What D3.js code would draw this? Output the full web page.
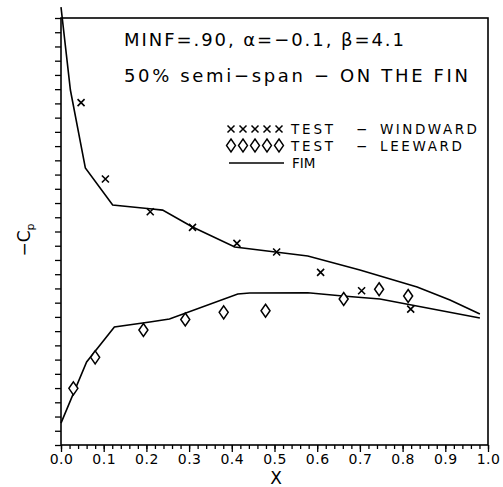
<!DOCTYPE html>
<html>
<head>
<meta charset="utf-8">
<script src="https://cdn.jsdelivr.net/npm/d3@7"></script>
<style>
  body { margin: 0; background: #fff; }
  svg { display: block; }
  text { font-family: "DejaVu Sans", sans-serif; fill: #000; }
</style>
</head>
<body>
<div id="vis"></div>
<script>
// test data - windward (x markers)
var xWind = [0.047, 0.104, 0.209, 0.308, 0.412, 0.505, 0.608, 0.704, 0.819];
var cpWind = [0.905, 0.369, 0.139, 0.029, -0.083, -0.144, -0.287, -0.416, -0.545];

// test data - leeward (diamonds)
var xLee = [0.029, 0.080, 0.193, 0.291, 0.381, 0.479, 0.662, 0.745, 0.813];
var cpLee = [-1.102, -0.884, -0.692, -0.618, -0.568, -0.557, -0.474, -0.406, -0.453];

// FIM curves
var xFimUp = [0.0, 0.022, 0.057, 0.121, 0.208, 0.238, 0.308, 0.407, 0.578, 0.700, 0.834, 0.911, 0.981];
var cpFimUp = [1.577, 0.994, 0.446, 0.186, 0.160, 0.150, 0.032, -0.109, -0.172, -0.271, -0.390, -0.481, -0.580];
var xFimLow = [0.0, 0.060, 0.125, 0.208, 0.254, 0.414, 0.442, 0.578, 0.660, 0.747, 0.981];
var cpFimLow = [-1.346, -0.917, -0.671, -0.636, -0.615, -0.439, -0.432, -0.430, -0.453, -0.474, -0.608];

var xTickLabels = ["0.0", "0.1", "0.2", "0.3", "0.4", "0.5", "0.6", "0.7", "0.8", "0.9", "1.0"];
var legendLabels = ["WINDWARD", "LEEWARD"];

var margin = { top: 18, right: 15, bottom: 42, left: 61 },
    width = 503 - margin.left - margin.right,
    height = 487 - margin.top - margin.bottom;

var svg = d3.select("#vis")
  .append("svg")
    .attr("width", 503)
    .attr("height", 487);

var plot = svg.append("g")
  .attr("transform", "translate(" + margin.left + "," + margin.top + ")");

var x = d3.scaleLinear().domain([0, 1]).range([0, width]);
var y = d3.scaleLinear().domain([-1.5, 1.5]).range([height, 0]);

// minor x ticks
plot.append("g")
  .attr("transform", "translate(0," + height + ")")
  .call(d3.axisBottom(x).tickValues(d3.range(0, 51).map(d => d / 50)).tickSize(4).tickFormat(""))
  .call(g => g.select(".domain").remove());

// major x ticks with labels
plot.append("g")
  .attr("transform", "translate(0," + height + ")")
  .call(d3.axisBottom(x).tickValues(d3.range(0, 11).map(d => d / 10)).tickSize(7).tickPadding(2)
    .tickFormat((d, i) => xTickLabels[i]))
  .call(g => g.select(".domain").remove())
  .call(g => g.selectAll("text")
    .attr("font-size", 14)
    .attr("letter-spacing", 0.5)
    .attr("fill", "#000")
    .style("font-family", "DejaVu Sans, sans-serif"));

// y ticks, unlabeled
plot.append("g")
  .call(d3.axisLeft(y).tickValues(d3.range(0, 31).map(d => -1.5 + d / 10)).tickSize(6).tickFormat(""))
  .call(g => g.select(".domain").remove());

plot.selectAll(".tick line").attr("stroke", "#000").attr("stroke-width", 1.3);

// frame
plot.append("rect")
  .attr("width", width)
  .attr("height", height)
  .attr("fill", "none")
  .attr("stroke", "#000")
  .attr("stroke-width", 1.6);

var line = d3.line()
  .x(d => x(d[0]))
  .y(d => y(d[1]));

[[xFimUp, cpFimUp], [xFimLow, cpFimLow]].forEach(function (s) {
  plot.append("path")
    .datum(d3.zip(s[0], s[1]))
    .attr("d", line)
    .attr("fill", "none")
    .attr("stroke", "#000")
    .attr("stroke-width", 1.6);
});

function crossPath(cx, cy) {
  var r = 3.5;
  return "M" + (cx - r) + "," + (cy - r) + "L" + (cx + r) + "," + (cy + r) +
         "M" + (cx - r) + "," + (cy + r) + "L" + (cx + r) + "," + (cy - r);
}
function diamondPath(cx, cy) {
  var w = 4.5, h = 6.5;
  return "M" + cx + "," + (cy - h) + "L" + (cx + w) + "," + cy +
         "L" + cx + "," + (cy + h) + "L" + (cx - w) + "," + cy + "Z";
}

plot.append("g")
  .selectAll("path")
  .data(d3.zip(xWind, cpWind))
  .enter()
  .append("path")
    .attr("d", d => crossPath(x(d[0]), y(d[1])))
    .attr("stroke", "#000")
    .attr("stroke-width", 1.6);

plot.append("g")
  .selectAll("path")
  .data(d3.zip(xLee, cpLee))
  .enter()
  .append("path")
    .attr("d", d => diamondPath(x(d[0]), y(d[1])))
    .attr("fill", "#fff")
    .attr("stroke", "#000")
    .attr("stroke-width", 1.5);

// titles
svg.append("text")
  .attr("x", 124).attr("y", 46)
  .attr("font-size", 18)
  .attr("textLength", 280).attr("lengthAdjust", "spacing")
  .text("MINF=.90,  \u03b1=\u22120.1,  \u03b2=4.1");

svg.append("text")
  .attr("x", 124).attr("y", 82)
  .attr("font-size", 18)
  .attr("textLength", 344).attr("lengthAdjust", "spacing")
  .text("50% semi\u2212span  \u2212  ON THE FIN");

// legend
var legend = svg.append("g");
var legendRows = [129, 145.5];
var legendWidths = [97, 82];

d3.range(5).forEach(function (i) {
  legend.append("path")
    .attr("d", crossPath(231 + i * 12, legendRows[0]))
    .attr("stroke", "#000").attr("stroke-width", 1.5);
  legend.append("path")
    .attr("d", diamondPath(231 + i * 12, legendRows[1]))
    .attr("fill", "#fff").attr("stroke", "#000").attr("stroke-width", 1.4);
});

legendLabels.forEach(function (lab, i) {
  legend.append("text").attr("x", 291).attr("y", legendRows[i] + 5).attr("font-size", 13.5)
    .attr("textLength", 42).attr("lengthAdjust", "spacing").text("TEST");
  legend.append("text").attr("x", 356).attr("y", legendRows[i] + 5).attr("font-size", 13.5).text("\u2212");
  legend.append("text").attr("x", 380).attr("y", legendRows[i] + 5).attr("font-size", 13.5)
    .attr("textLength", legendWidths[i]).attr("lengthAdjust", "spacing").text(lab);
});

legend.append("line")
  .attr("x1", 229).attr("x2", 284)
  .attr("y1", 163).attr("y2", 163)
  .attr("stroke", "#000").attr("stroke-width", 1.5);
legend.append("text").attr("x", 292).attr("y", 168).attr("font-size", 13.5).text("FIM");

// axis titles
svg.append("text")
  .attr("x", 276).attr("y", 484)
  .attr("text-anchor", "middle")
  .attr("font-size", 17)
  .attr("fill", "#000")
  .text("X");

var yLab = svg.append("text")
  .attr("transform", "translate(30,240) rotate(-90)")
  .attr("text-anchor", "middle")
  .attr("font-size", 17)
  .attr("fill", "#000");
yLab.append("tspan").attr("fill", "#000").text("\u2212C");
yLab.append("tspan").attr("fill", "#000").attr("font-size", 11).attr("dy", 4).text("p");
</script>
</body>
</html>
